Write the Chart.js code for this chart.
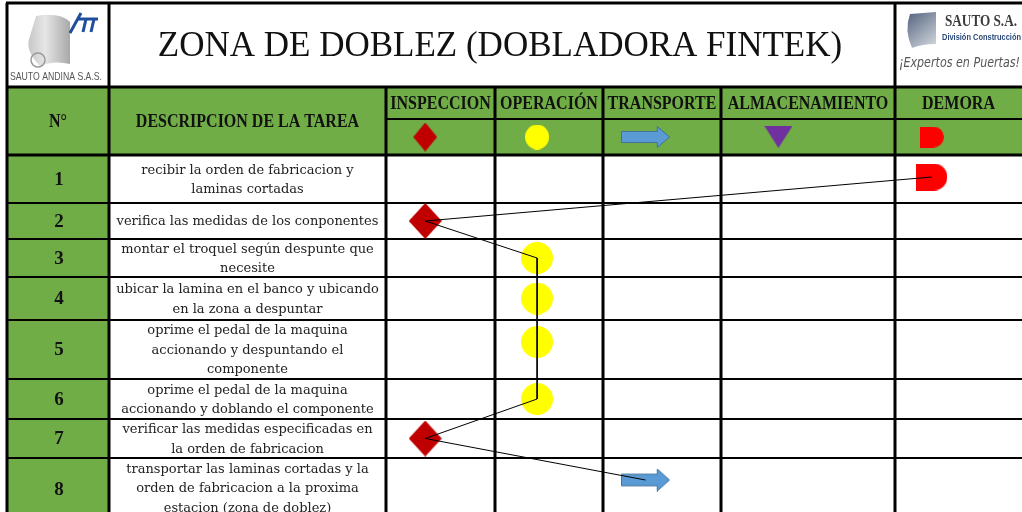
<!DOCTYPE html>
<html>
<head>
<meta charset="utf-8">
<script src="https://cdn.jsdelivr.net/npm/chart.js@4"></script>
<style>
  body { margin: 0; background: #fff; }
  #wrap { width: 1022px; height: 512px; }
</style>
</head>
<body>
<div id="wrap"><canvas id="diagrama"></canvas></div>
<script>
//==================== datos ====================
const titulo = 'ZONA DE DOBLEZ (DOBLADORA FINTEK)';
const tipos = ['INSPECCION', 'OPERACIÓN', 'TRANSPORTE', 'ALMACENAMIENTO', 'DEMORA'];
const pasos = ['1', '2', '3', '4', '5', '6', '7', '8'];
const descripciones = [
	'recibir la orden de fabricacion y\nlaminas cortadas',
	'verifica las medidas de los conponentes',
	'montar el troquel según despunte que\nnecesite',
	'ubicar la lamina en el banco y ubicando\nen la zona a despuntar',
	'oprime el pedal de la maquina\naccionando y despuntando el\ncomponente',
	'oprime el pedal de la maquina\naccionando y doblando el componente',
	'verificar las medidas especificadas en\nla orden de fabricacion',
	'transportar las laminas cortadas y la\norden de fabricacion a la proxima\nestacion (zona de doblez)'
];
const tipoPorPaso = ['DEMORA', 'INSPECCION', 'OPERACIÓN', 'OPERACIÓN', 'OPERACIÓN', 'OPERACIÓN', 'INSPECCION', 'TRANSPORTE'];

//==================== layout (pixels) ====================
const colX = [7, 109, 386, 495, 603, 721, 895, 1022];
const rowY = [3, 87, 119, 155, 203, 239, 277, 320, 379, 419, 458, 520];
const markFrac = [0.36, 0.39, 0.36, 0.33, 0.29];
const verde = '#70AD47';

function colPos(t) {
	const i = tipos.indexOf(t);
	const l = colX[2 + i], r = colX[3 + i];
	return l + (r - l) * markFrac[i];
}
function rowPos(i) {
	const t = rowY[3 + i], b = rowY[4 + i];
	return t + Math.min((b - t) / 2, 22);
}

//==================== simbolos ====================
function shape(w, h, draw) {
	const c = document.createElement('canvas');
	c.width = w; c.height = h;
	draw(c.getContext('2d'), w, h);
	return c;
}
function rombo(w, h) {
	return shape(w, h, (g) => {
		g.fillStyle = '#C00000';
		g.beginPath(); g.moveTo(w / 2, 0); g.lineTo(w, h / 2); g.lineTo(w / 2, h); g.lineTo(0, h / 2); g.closePath(); g.fill();
	});
}
function circulo(w, h) {
	return shape(w, h, (g) => {
		g.fillStyle = '#FFFF00';
		g.beginPath(); g.ellipse(w / 2, h / 2, w / 2, h / 2, 0, 0, Math.PI * 2); g.fill();
	});
}
function flecha(w, h) {
	return shape(w, h, (g) => {
		const hx = w * 0.74;
		g.fillStyle = '#5B9BD5'; g.strokeStyle = '#41719C'; g.lineWidth = 1;
		g.beginPath();
		g.moveTo(0.5, h * 0.25); g.lineTo(hx, h * 0.25); g.lineTo(hx, 0.5); g.lineTo(w - 0.5, h / 2);
		g.lineTo(hx, h - 0.5); g.lineTo(hx, h * 0.75); g.lineTo(0.5, h * 0.75); g.closePath();
		g.fill(); g.stroke();
	});
}
function triangulo(w, h) {
	return shape(w, h, (g) => {
		g.fillStyle = '#7030A0';
		g.beginPath(); g.moveTo(0, 0); g.lineTo(w, 0); g.lineTo(w / 2, h); g.closePath(); g.fill();
	});
}
function demora(w, h) {
	return shape(w, h, (g) => {
		const r = h / 2;
		g.fillStyle = '#FF0000';
		g.beginPath(); g.moveTo(0, 0); g.lineTo(w - r, 0); g.arc(w - r, r, r, -Math.PI / 2, Math.PI / 2); g.lineTo(0, h); g.closePath(); g.fill();
	});
}
const simbolosGrandes = {
	'INSPECCION': rombo(33, 36),
	'OPERACIÓN': circulo(32, 32),
	'TRANSPORTE': flecha(49, 23),
	'ALMACENAMIENTO': triangulo(28, 22),
	'DEMORA': demora(31, 27)
};
const simbolosLeyenda = {
	'INSPECCION': rombo(24, 29),
	'OPERACIÓN': circulo(24, 25),
	'TRANSPORTE': flecha(49, 22),
	'ALMACENAMIENTO': triangulo(28, 22),
	'DEMORA': demora(24, 21)
};

//==================== tabla (plugin) ====================
function lineas(ctx, text, cx, cy, lh) {
	const parts = text.split('\n');
	const y0 = cy - (parts.length - 1) * lh / 2;
	parts.forEach((p, k) => ctx.fillText(p, cx, y0 + k * lh));
}
function alto(ctx, text, cx, cy, sy, maxW) {
	ctx.save();
	ctx.translate(cx, cy);
	ctx.scale(1, sy);
	if (maxW) ctx.fillText(text, 0, 0, maxW); else ctx.fillText(text, 0, 0);
	ctx.restore();
}
function hline(ctx, y, x1, x2, w) {
	ctx.lineWidth = w; ctx.beginPath(); ctx.moveTo(x1, y); ctx.lineTo(x2, y); ctx.stroke();
}
function vline(ctx, x, y1, y2, w) {
	ctx.lineWidth = w; ctx.beginPath(); ctx.moveTo(x, y1); ctx.lineTo(x, y2); ctx.stroke();
}

const tablaPlugin = {
	id: 'tabla',
	beforeDatasetsDraw(chart) {
		const ctx = chart.ctx;
		const W = 1022;
		ctx.save();
		ctx.fillStyle = '#fff';
		ctx.fillRect(0, 0, W, 512);
		// fondos verdes
		ctx.fillStyle = verde;
		ctx.fillRect(colX[0], rowY[1], W - colX[0], rowY[3] - rowY[1]);
		ctx.fillRect(colX[0], rowY[3], colX[1] - colX[0], 520 - rowY[3]);

		// logo izquierdo
		const lg = ctx.createLinearGradient(20, 0, 70, 0);
		lg.addColorStop(0, '#B8B8B8'); lg.addColorStop(0.5, '#E6E6E6'); lg.addColorStop(1, '#A8A8A8');
		ctx.fillStyle = lg;
		ctx.beginPath();
		ctx.moveTo(36, 16); ctx.quadraticCurveTo(60, 12, 70, 22); ctx.lineTo(70, 64);
		ctx.quadraticCurveTo(54, 60, 40, 66); ctx.quadraticCurveTo(24, 50, 30, 36); ctx.closePath(); ctx.fill();
		ctx.strokeStyle = '#999'; ctx.lineWidth = 1.5;
		ctx.beginPath(); ctx.arc(38, 60, 7, 0, Math.PI * 2); ctx.stroke();
		ctx.strokeStyle = '#1F4E9C'; ctx.lineWidth = 3;
		ctx.beginPath(); ctx.moveTo(70, 33); ctx.lineTo(81, 13); ctx.stroke();
		ctx.beginPath(); ctx.moveTo(77, 19); ctx.lineTo(98, 19); ctx.stroke();
		ctx.beginPath(); ctx.moveTo(86, 19); ctx.lineTo(83, 32); ctx.stroke();
		ctx.beginPath(); ctx.moveTo(94, 19); ctx.lineTo(91, 32); ctx.stroke();
		ctx.fillStyle = '#555';
		ctx.font = '9px "Liberation Sans"';
		ctx.textAlign = 'center'; ctx.textBaseline = 'middle';
		alto(ctx, 'SAUTO ANDINA S.A.S.', 56, 77, 1.2, 92);

		// logo derecho
		const rg = ctx.createLinearGradient(905, 12, 935, 48);
		rg.addColorStop(0, '#4E5F7A'); rg.addColorStop(1, '#D5D9DF');
		ctx.fillStyle = rg;
		ctx.beginPath();
		ctx.moveTo(910, 14); ctx.lineTo(936, 12); ctx.lineTo(936, 44);
		ctx.quadraticCurveTo(922, 44, 912, 48); ctx.quadraticCurveTo(904, 30, 910, 14); ctx.closePath(); ctx.fill();
		ctx.fillStyle = '#3A3A3A';
		ctx.font = 'bold 15px "Liberation Serif"';
		ctx.textAlign = 'left';
		alto(ctx, 'SAUTO S.A.', 945, 22, 1.15, 72);
		ctx.fillStyle = '#2C4A7A';
		ctx.font = 'bold 9px "Liberation Sans"';
		ctx.fillText('División Construcción', 942, 38, 79);
		ctx.fillStyle = '#555';
		ctx.font = 'italic 12px "DejaVu Sans"';
		alto(ctx, '¡Expertos en Puertas!', 899, 63, 1.2, 121);

		// titulo
		ctx.fillStyle = '#111';
		ctx.textAlign = 'center';
		ctx.font = '35px "Liberation Serif"';
		ctx.fillText(titulo, 500, 47);

		// encabezados
		ctx.fillStyle = '#111';
		ctx.font = 'bold 16px "Liberation Serif"';
		alto(ctx, 'N°', (colX[0] + colX[1]) / 2, 122, 1.18);
		alto(ctx, 'DESCRIPCION DE LA TAREA', (colX[1] + colX[2]) / 2, 122, 1.18);
		tipos.forEach((t, i) => {
			alto(ctx, t, (colX[2 + i] + colX[3 + i]) / 2, 104, 1.18, colX[3 + i] - colX[2 + i] - 4);
		});

		// filas
		pasos.forEach((p, i) => {
			const cy = (rowY[3 + i] + rowY[4 + i]) / 2;
			ctx.fillStyle = '#111';
			ctx.font = 'bold 19px "Liberation Serif"';
			ctx.fillText(p, (colX[0] + colX[1]) / 2 + 1, Math.min(cy, 489) + 1);
			ctx.fillStyle = '#222';
			ctx.font = '13px "DejaVu Serif"';
			lineas(ctx, descripciones[i], (colX[1] + colX[2]) / 2, Math.min(cy, 488) + 1, 19.5);
		});

		// rejilla
		ctx.strokeStyle = '#000';
		hline(ctx, rowY[0], colX[0] - 1, W, 3);
		hline(ctx, rowY[1], colX[0] - 1, W, 3);
		hline(ctx, rowY[2], colX[2], W, 2);
		hline(ctx, rowY[3], colX[0] - 1, W, 3);
		for (let k = 4; k < rowY.length - 1; k++) hline(ctx, rowY[k], colX[0], W, 2);
		vline(ctx, colX[0], rowY[0], 520, 3);
		vline(ctx, colX[1], rowY[0], 520, 3);
		for (let k = 2; k < 6; k++) vline(ctx, colX[k], rowY[1], 520, 3);
		vline(ctx, colX[6], rowY[0], 520, 3);
		ctx.restore();
	}
};

//==================== chart ====================
const recorrido = tipoPorPaso.map((t, i) => ({ x: colPos(t), y: rowPos(i) }));
const leyenda = tipos.map((t) => ({ x: colPos(t), y: (rowY[2] + rowY[3]) / 2 }));

const ctx = document.getElementById('diagrama').getContext('2d');
const diagrama = new Chart(ctx, {
	type: 'scatter',
	data: {
		datasets: [
			{
				label: 'recorrido',
				data: recorrido,
				showLine: true,
				borderColor: '#000',
				borderWidth: 1,
				pointRadius: 0,
				tension: 0
			},
			{
				label: 'pasos',
				data: recorrido,
				showLine: false,
				pointRadius: 10,
				pointStyle: tipoPorPaso.map((t) => simbolosGrandes[t])
			},
			{
				label: 'simbolos',
				data: leyenda,
				showLine: false,
				pointRadius: 10,
				pointStyle: tipos.map((t) => simbolosLeyenda[t])
			}
		]
	},
	options: {
		responsive: true,
		maintainAspectRatio: false,
		devicePixelRatio: 1,
		animation: false,
		layout: { padding: 0, autoPadding: false },
		plugins: { legend: { display: false }, tooltip: { enabled: false } },
		scales: {
			x: { type: 'linear', min: 0, max: 1022, display: false },
			y: { type: 'linear', min: 0, max: 512, reverse: true, display: false }
		}
	},
	plugins: [tablaPlugin]
});
</script>
</body>
</html>
